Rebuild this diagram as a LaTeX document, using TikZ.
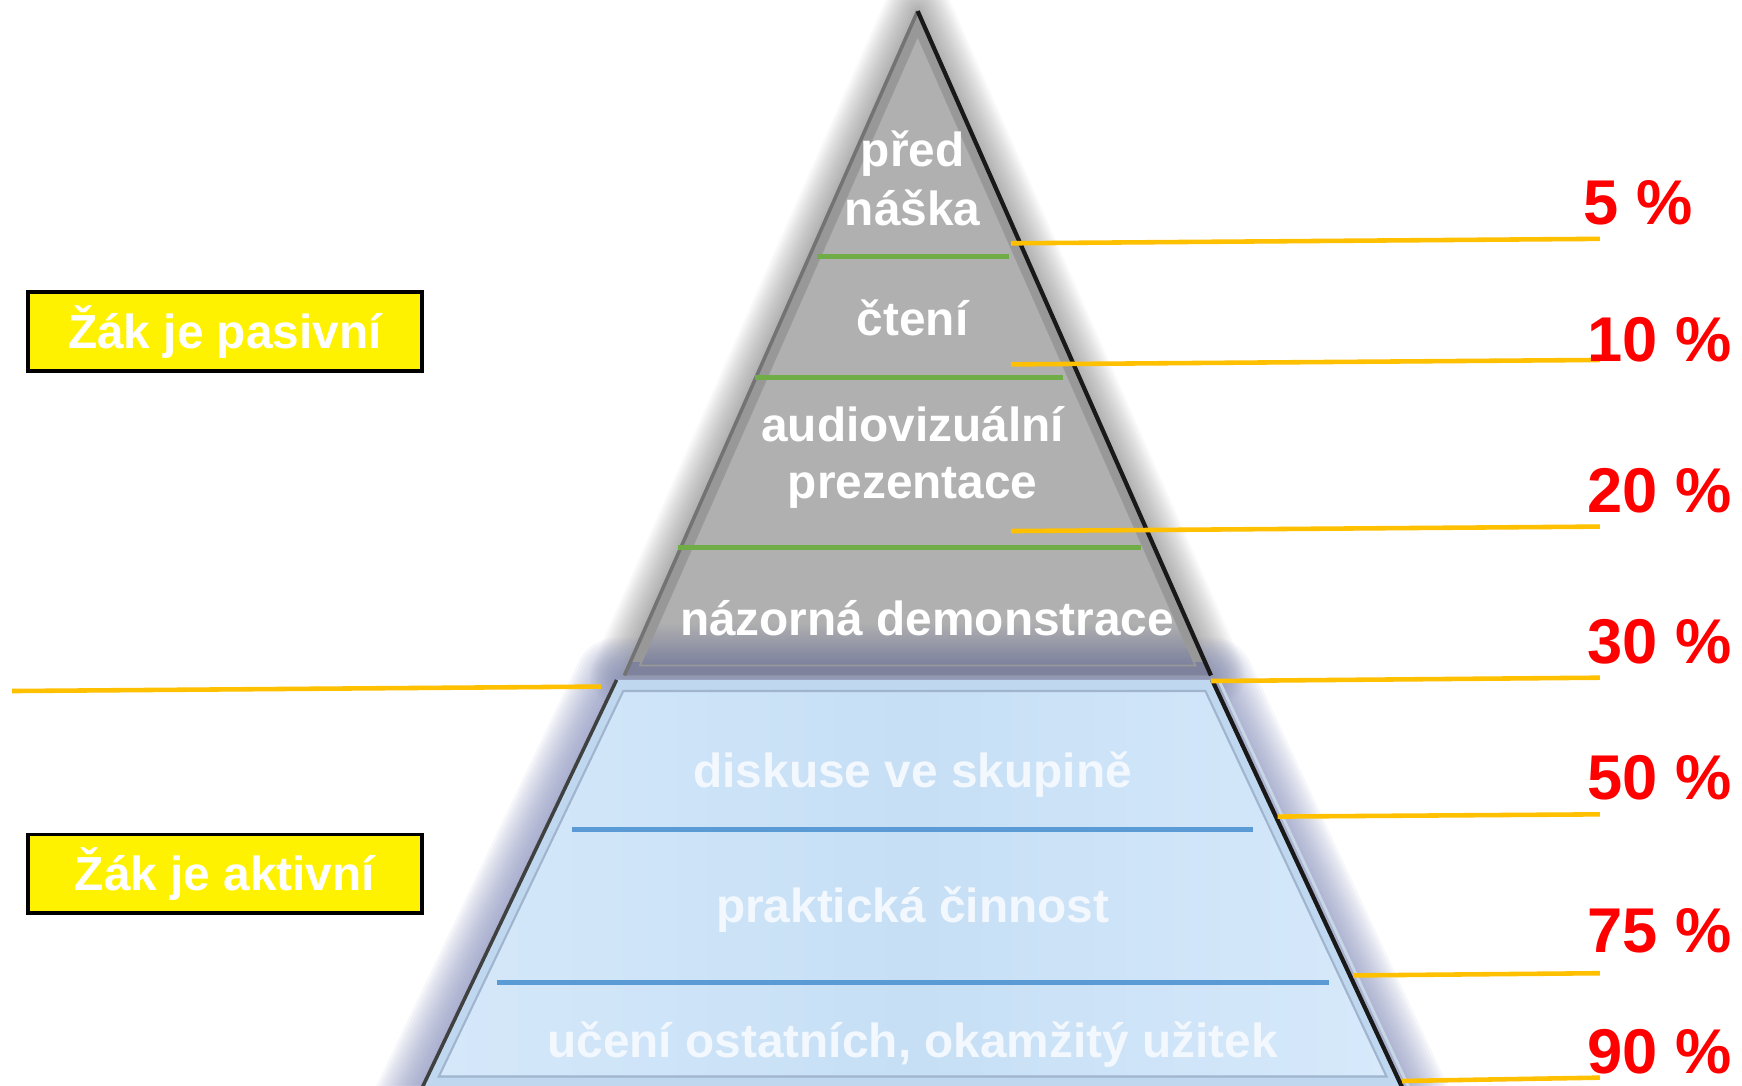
\documentclass[tikz,border=0pt]{standalone}
\usepackage{fontspec}
\setmainfont{Liberation Sans}
\definecolor{ylw}{HTML}{FFC000}
\definecolor{grn}{HTML}{70AD47}
\definecolor{blu}{HTML}{5B9BD5}
\definecolor{pgray}{HTML}{B0B0B0}
\definecolor{bevelg}{HTML}{989898}
\definecolor{baseg}{HTML}{7E829C}
\definecolor{glowb}{HTML}{8A93C0}
\definecolor{bbevel}{HTML}{BFD8EF}
\definecolor{bfillL}{HTML}{D5E8FA}
\definecolor{bfillM}{HTML}{C6DFF5}
\definecolor{bfillR}{HTML}{D7E9FB}
\definecolor{btext}{HTML}{F3F8FE}
\begin{document}
\begin{tikzpicture}[x=0.0111097cm,y=-0.0111097cm,
  lbl/.style={font=\fontsize{13.6}{16}\selectfont\bfseries, text=white, inner sep=0pt, anchor=base},
  blbl/.style={lbl, text=btext},
  pct/.style={font=\fontsize{18}{21}\selectfont\bfseries, text=red, inner sep=0pt, anchor=base west},
  ybox/.style={draw=black, line width=1pt, fill=yellow, minimum width=3.944cm, minimum height=0.789cm, inner sep=0pt,
     font=\fontsize{13.6}{16}\selectfont\bfseries, text=white},
  yline/.style={draw=ylw, line width=1.3pt},
  gline/.style={draw=grn, line width=1.3pt},
  bline/.style={draw=blu, line width=1.4pt}]
\useasboundingbox (0,0) rectangle (1568,977);
\fill[white] (0,0) rectangle (1568,977);

% ---------- glows ----------
\foreach \i in {1,...,16} {
  \pgfmathsetmacro\lw{\i*1.2}
  \draw[line width=\lw pt, draw=black!60, opacity=0.04, line join=round]
     (826,10) -- (1090,608) -- (562,608) -- cycle;
}
\foreach \i in {1,...,16} {
  \pgfmathsetmacro\lw{\i*1.5}
  \draw[line width=\lw pt, draw=glowb, opacity=0.07, line join=round]
     (555,612) -- (1091,612) -- (1272,1000) -- (370,1000) -- cycle;
}

% ---------- gray triangle ----------
\fill[bevelg] (826,10) -- (1090,608) -- (562,608) -- cycle;
\begin{scope}
  \clip (826,10) -- (1090,608) -- (562,608) -- cycle;
  \fill[baseg] (500,596) rectangle (1150,612);
\end{scope}
\fill[pgray] (826,32) -- (1076,599) -- (576,599) -- cycle;
\begin{scope}
  \clip (826,32) -- (1076,599) -- (576,599) -- cycle;
  \shade[top color=pgray, bottom color={rgb,255:red,122;green,127;blue,156}] (500,560) rectangle (1150,600);
\end{scope}
\draw[draw=black!40, line width=0.5pt] (576,599) -- (826,32) -- (1076,599) -- cycle;
\draw[draw=black!55, line width=1pt] (562,608) -- (826,10);
\draw[draw=black!90, line width=1.2pt] (826,10) -- (1090,608);

% ---------- blue trapezoid ----------
\fill[bbevel] (555,612) -- (1091,612) -- (1272,1000) -- (370,1000) -- cycle;
\shade[left color=bfillL, right color=bfillR, middle color=bfillM]
   (561,622) -- (1085,622) -- (1248,969) -- (395,969) -- cycle;
\draw[draw={rgb,255:red,160;green,180;blue,205}, line width=0.6pt]
   (561,622) -- (1085,622) -- (1248,969) -- (395,969) -- cycle;
\draw[draw=black!75, line width=1pt] (555,612) -- (370,1000);
\draw[draw=black!90, line width=1.2pt] (1091,612) -- (1272,1000);
\draw[draw={rgb,255:red,200;green,215;blue,230}, line width=0.8pt] (1097,612) -- (1278,1000);

% ---------- divider lines ----------
\coordinate (g1a) at (735,231); \coordinate (g1b) at (908,231);
\coordinate (g2a) at (680,340); \coordinate (g2b) at (957,340);
\coordinate (g3a) at (610,493); \coordinate (g3b) at (1027,493);
\draw[gline] (g1a) -- (g1b);
\draw[gline] (g2a) -- (g2b);
\draw[gline] (g3a) -- (g3b);
\coordinate (b1a) at (515,747); \coordinate (b1b) at (1128,747);
\coordinate (b2a) at (447,884); \coordinate (b2b) at (1196,884);
\draw[bline] (b1a) -- (b1b);
\draw[bline] (b2a) -- (b2b);

% ---------- yellow lines ----------
\coordinate (y1a) at (910,219);  \coordinate (y1b) at (1440,215);
\coordinate (y2a) at (910,328);  \coordinate (y2b) at (1440,324);
\coordinate (y3a) at (910,478);  \coordinate (y3b) at (1440,474);
\coordinate (y4a) at (1090,613); \coordinate (y4b) at (1440,610);
\coordinate (y5a) at (1150,735); \coordinate (y5b) at (1440,733);
\coordinate (y6a) at (1218,878); \coordinate (y6b) at (1440,876);
\coordinate (y7a) at (1262,973); \coordinate (y7b) at (1440,970);
\coordinate (yLa) at (11,622);   \coordinate (yLb) at (541,618);
\foreach \n in {1,...,7} { \draw[yline] (y\n a) -- (y\n b); }
\draw[yline] (yLa) -- (yLb);

% ---------- pyramid labels ----------
\node[lbl] (t1) at (821.5,150) {před};
\node[lbl] (t2) at (821.5,203) {náška};
\node[lbl] (t3) at (821.5,302) {čtení};
\node[lbl] (t4) at (821.5,397) {audiovizuální};
\node[lbl] (t5) at (821.5,449) {prezentace};
\node[lbl] (t6) at (834.5,572) {názorná demonstrace};
\node[blbl] (t7) at (821.5,709) {diskuse ve skupině};
\node[blbl] (t8) at (821.5,830) {praktická činnost};
\node[blbl] (t9) at (821.5,952) {učení ostatních, okamžitý užitek};

% ---------- percentages ----------
\node[pct] (p1) at (1425,202) {5 \%};
\node[pct] (p2) at (1428,325) {10 \%};
\node[pct] (p3) at (1428,461) {20 \%};
\node[pct] (p4) at (1428,597) {30 \%};
\node[pct] (p5) at (1428,720) {50 \%};
\node[pct] (p6) at (1428,857) {75 \%};
\node[pct] (p7) at (1428,966) {90 \%};

% ---------- yellow boxes ----------
\node[ybox] (pas) at (202.5,298.5) {Žák je pasivní};
\node[ybox] (akt) at (202.5,786.5) {Žák je aktivní};
\end{tikzpicture}
\end{document}
